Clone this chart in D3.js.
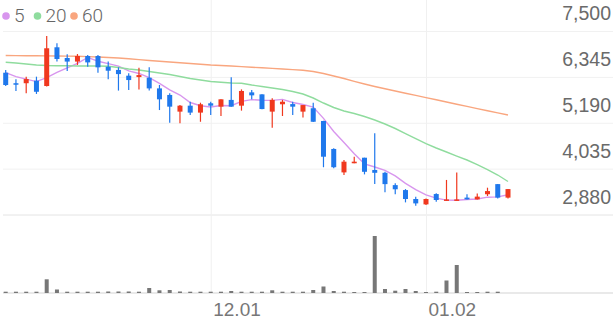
<!DOCTYPE html>
<html>
<head>
<meta charset="utf-8">
<script src="https://cdn.jsdelivr.net/npm/d3@7"></script>
<style>
  body { margin: 0; background: #fff; }
  svg { display: block; font-family: Roboto, sans-serif; }
</style>
</head>
<body>
<div id="chart"></div>
<script>
var width = 616, height = 321;

// trading days (2022.11.03 ~ 2023.01.12)
var dates = ["11.03","11.04","11.07","11.08","11.09","11.10","11.11","11.14","11.15","11.16",
  "11.17","11.18","11.21","11.22","11.23","11.24","11.25","11.28","11.29","11.30",
  "12.01","12.02","12.05","12.06","12.07","12.08","12.09","12.12","12.13","12.14",
  "12.15","12.16","12.19","12.20","12.21","12.22","12.23","12.26","12.27","12.28",
  "12.29","01.02","01.03","01.04","01.05","01.06","01.09","01.10","01.11","01.12"];

var open  = [6450,6185,6185,6250,6115,7090,6820,6730,6870,6870, 6600,6520,6375,6340,6325,6055,5890,5470,5620,5445,
             5680,5595,5765,5620,5955,5905,5470,5655,5660,5470, 5555,5235,4530,3940,4170,4310,4000,3930,3620,3495,
             3270,3135,3395,3230,3230,3305,3260,3390,3645,3305];
var high  = [6520,6285,6350,6350,7375,7190,6915,6920,6895,6895, 6730,6585,6435,6575,6585,6140,5930,5635,5720,5695,
             5720,5780,6335,6030,6015,5905,5805,5765,5720,5635, 5695,5240,4545,4250,4335,4310,4925,3955,3665,3520,
             3330,3285,3415,3750,3940,3390,3410,3555,3645,3520];
var low   = [6115,5990,5930,5915,6100,6730,6495,6645,6600,6450, 6285,6000,6015,6030,6000,5510,5190,5175,5385,5215,
             5385,5360,5595,5495,5780,5530,5065,5360,5385,5325, 5210,4070,4045,3875,4170,3890,3645,3440,3390,3185,
             3100,3120,3200,3230,3230,3260,3260,3345,3285,3285];
var close = [6140,6160,6290,5970,7065,6795,6730,6870,6710,6585, 6500,6415,6265,6390,6055,5780,5595,5620,5445,5655,
             5620,5780,5595,5990,5880,5535,5765,5720,5595,5635, 5215,4335,4070,4210,4210,3955,3930,3645,3515,3270,
             3160,3270,3245,3260,3260,3260,3330,3470,3305,3520];
// volume (shares)
var volume = [1300,1300,1300,1300,13700,3500,1300,1300,1300,1300, 1500,1500,1500,1300,5000,2700,3000,1500,1300,1300,
              1300,1300,2000,1300,1300,1300,2700,1300,1300,1300, 3000,6500,2000,1300,1000,1000,57000,4000,2300,4000,
              2000,1000,1300,12500,28000,1000,1000,1300,1300,0];

// moving averages
var ma5  = [6450,6350,6290,6225,6325,6456,6570,6686,6834,6738, 6679,6616,6495,6431,6325,6181,6017,5888,5699,5619,
            5587,5624,5619,5728,5773,5756,5753,5778,5699,5650, 5586,5300,4970,4693,4408,4156,4075,3990,3851,3663,
            3504,3372,3292,3241,3239,3259,3271,3316,3325,3377];
var ma20 = [6712,6694,6669,6644,6631,6626,6624,6619,6619,6619, 6611,6581,6543,6518,6481,6443,6405,6354,6304,6266,
            6228,6208,6191,6183,6140,6103,6065,6027,5977,5914, 5813,5687,5574,5485,5422,5347,5259,5158,5045,4919,
            4793,4667,4554,4453,4352,4252,4138,4012,3874,3710];
var ma60 = [6883,6881,6878,6876,6873,6871,6868,6863,6855,6845, 6833,6820,6800,6780,6757,6737,6719,6699,6682,6664,
            6644,6631,6619,6604,6588,6573,6558,6543,6528,6510, 6480,6430,6367,6304,6233,6165,6103,6045,5989,5934,
            5878,5823,5768,5712,5657,5601,5546,5491,5438,5385];

var yTicks = [2880, 4035, 5190, 6345, 7500];
var xTicks = ["12.01", "01.02"];
var maNames = ["5", "20", "60"];
var maColors = ["#d896ee", "#8fdc9e", "#f9a67f"];
var upColor = "#f0381e", downColor = "#1f78ec";

var svg = d3.select("#chart").append("svg")
  .attr("width", width).attr("height", height);

var x = d3.scalePoint().domain(dates).range([5.7, 508]);
var y = d3.scaleLinear().domain([yTicks[0], yTicks[4]]).range([214.5, 31]);
var yv = d3.scaleLinear().domain([0, 57000]).range([293, 236]);

// horizontal grid + price labels
var yAxis = svg.append("g")
  .attr("transform", "translate(3,0)")
  .call(d3.axisRight(y).tickValues(yTicks).tickSize(width - 6).tickFormat(d3.format(",")));
yAxis.select(".domain").remove();
yAxis.selectAll(".tick line").attr("stroke", function(d) { return d == yTicks[0] ? "#e4e4e4" : "#f1f1f1"; });
yAxis.selectAll(".tick text")
  .attr("x", width - 8).attr("dy", "-0.58em")
  .attr("text-anchor", "end")
  .attr("fill", "#6a6a6a").attr("font-size", "19.5px").attr("font-weight", 300);

// vertical grid + date labels
var xAxis = svg.append("g")
  .attr("transform", "translate(0,293)")
  .call(d3.axisBottom(x).tickValues(xTicks).tickSize(-293));
xAxis.select(".domain").remove();
xAxis.selectAll(".tick line").attr("stroke", "#f0f0f0");
xAxis.selectAll(".tick text")
  .attr("x", 2).attr("y", 10).attr("dy", "0.71em")
  .attr("text-anchor", "start")
  .attr("fill", "#777").attr("font-size", "19px").attr("font-weight", 300);

// volume baseline
svg.append("line")
  .attr("x1", 3).attr("x2", width - 3)
  .attr("y1", yv(0)).attr("y2", yv(0))
  .attr("stroke", "#e2e2e2").attr("stroke-width", 1.5);

// volume bars
svg.append("g").selectAll("rect")
  .data(volume)
  .enter().append("rect")
  .attr("x", function(d, i) { return x(dates[i]) - 2; })
  .attr("y", function(d) { return yv(d); })
  .attr("width", 4)
  .attr("height", function(d) { return yv(0) - yv(d); })
  .attr("fill", "#777");

// moving average lines
var mas = [ma5, ma20, ma60];
mas.forEach(function(ma, k) {
  svg.append("path")
    .datum(ma)
    .attr("fill", "none")
    .attr("stroke", maColors[k])
    .attr("stroke-width", 1.4)
    .attr("d", d3.line()
      .x(function(d, i) { return x(dates[i]); })
      .y(function(d) { return y(d); }));
});

// candles
var candle = svg.append("g").selectAll("g")
  .data(dates)
  .enter().append("g");

candle.append("line")
  .attr("x1", function(d) { return x(d); })
  .attr("x2", function(d) { return x(d); })
  .attr("y1", function(d, i) { return y(high[i]); })
  .attr("y2", function(d, i) { return y(low[i]); })
  .attr("stroke", function(d, i) { return close[i] >= open[i] ? upColor : downColor; })
  .attr("stroke-width", 1.2);

candle.append("rect")
  .attr("x", function(d) { return x(d) - 2.5; })
  .attr("y", function(d, i) { return y(Math.max(open[i], close[i])); })
  .attr("width", 5)
  .attr("height", function(d, i) { return Math.max(1.5, Math.abs(y(open[i]) - y(close[i]))); })
  .attr("fill", function(d, i) { return close[i] >= open[i] ? upColor : downColor; });

// legend
var legend = svg.append("g").attr("transform", "translate(6,16)");
var lx = [0, 31.5, 68];
maNames.forEach(function(name, k) {
  legend.append("circle")
    .attr("cx", lx[k]).attr("cy", 0).attr("r", 3.8)
    .attr("fill", maColors[k]);
  legend.append("text")
    .attr("x", lx[k] + 8).attr("y", 0).attr("dy", "0.34em")
    .attr("fill", "#666").attr("font-size", "19px").attr("font-weight", 300)
    .text(name);
});
</script>
</body>
</html>
